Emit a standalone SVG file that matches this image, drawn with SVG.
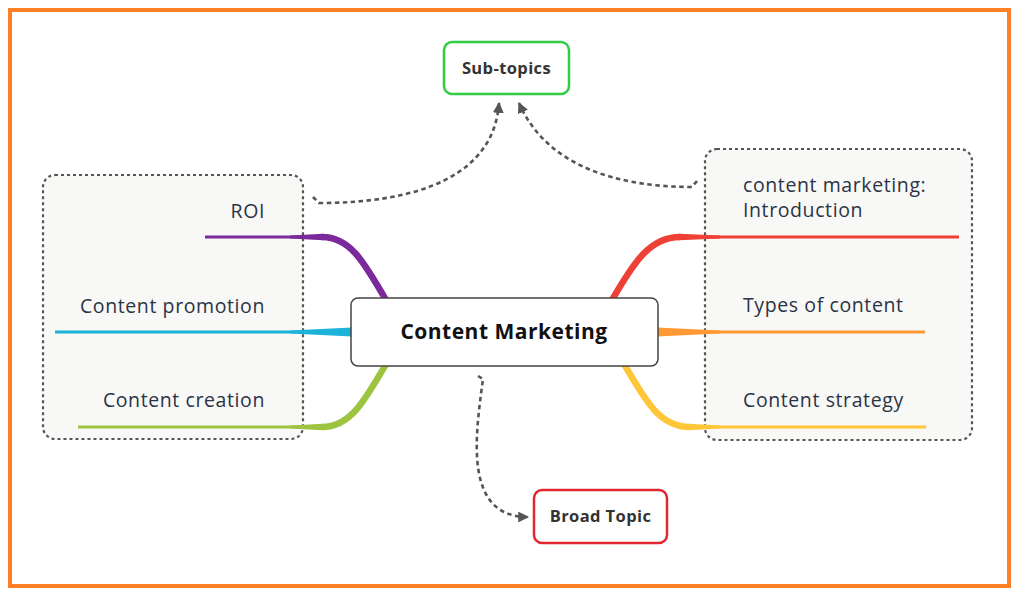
<svg xmlns="http://www.w3.org/2000/svg" width="1024" height="595" viewBox="0 0 1024 595">
<defs>
<style>
.frame{fill:#fff;stroke:#FF7F27;stroke-width:4}
.group{fill:#F8F8F6;stroke:#555;stroke-width:2.2;stroke-dasharray:3 3}
.dash{fill:none;stroke:#555;stroke-width:2.6;stroke-dasharray:4.5 3.5}
.thin{fill:none;stroke-width:3}
.thick{fill:none;stroke-width:6.5;stroke-linecap:butt}
.lbl{font-family:"Open Sans","Liberation Sans",sans-serif;font-size:19.5px;letter-spacing:0.6px;fill:#2B3445}
.ntxt{font-family:"Open Sans","Liberation Sans",sans-serif;font-weight:bold;fill:#333;text-anchor:middle}
</style>
<marker id="arr" viewBox="0 0 10 10" refX="9" refY="5" markerWidth="4.2" markerHeight="4.2" orient="auto" markerUnits="strokeWidth">
<path d="M0,0 L10,5 L0,10 z" fill="#555"/>
</marker>
</defs>
<rect class="frame" x="10" y="10" width="999" height="576"/>

<g id="group-left">
<rect class="group" x="43" y="175" width="260" height="264" rx="12"/>
</g>
<g id="group-right">
<rect class="group" x="705" y="149" width="267" height="291" rx="12"/>
</g>

<g id="connectors">
<!-- left branches -->
<path class="thin" stroke="#7B2A9B" d="M205,237 H300"/>
<polygon fill="#7B2A9B" points="290,235.5 323,233.75 323,240.25 290,238.5"/>
<path class="thick" stroke="#7B2A9B" d="M322,237 C350,237 364,262 386,300"/>
<path class="thin" stroke="#1BB3D9" d="M55,332 H300"/>
<polygon fill="#1BB3D9" points="290,330.5 352,327.5 352,336.5 290,333.5"/>
<path class="thin" stroke="#9CC43E" d="M78,427 H300"/>
<polygon fill="#9CC43E" points="290,425.5 323,423.75 323,430.25 290,428.5"/>
<path class="thick" stroke="#9CC43E" d="M322,427 C350,427 364,402 386,364"/>
<!-- right branches -->
<path class="thin" stroke="#EE4035" d="M700,237 H959"/>
<path class="thick" stroke="#EE4035" d="M612,300 C634,262 650,237 680,237"/>
<polygon fill="#EE4035" points="679,233.75 720,235.5 720,238.5 679,240.25"/>
<path class="thin" stroke="#FF9933" d="M700,332 H925"/>
<polygon fill="#FF9933" points="657,327.5 720,330.5 720,333.5 657,336.5"/>
<path class="thin" stroke="#FFC638" d="M700,427 H926"/>
<path class="thick" stroke="#FFC638" d="M624,364 C646,402 660,427 690,427"/>
<polygon fill="#FFC638" points="689,423.75 720,425.5 720,428.5 689,430.25"/>
<!-- dashed relations -->
<path class="dash" d="M313,197 L319,203 C420,203 494,175 499,103" marker-end="url(#arr)"/>
<path class="dash" d="M697,181 L692,187 C615,187 546,165 519,103" marker-end="url(#arr)"/>
<path class="dash" d="M478,376 L483,379 C476,432 462,517 528,517" marker-end="url(#arr)"/>
</g>

<g id="node-roi"><text class="lbl" x="265" y="218" text-anchor="end">ROI</text></g>
<g id="node-promotion"><text class="lbl" x="265" y="313" text-anchor="end">Content promotion</text></g>
<g id="node-creation"><text class="lbl" x="265" y="407" text-anchor="end">Content creation</text></g>
<g id="node-intro"><text class="lbl" x="743" y="192">content marketing:</text><text class="lbl" x="743" y="217">Introduction</text></g>
<g id="node-types"><text class="lbl" x="743" y="312">Types of content</text></g>
<g id="node-strategy"><text class="lbl" x="743" y="407">Content strategy</text></g>

<g id="node-central">
<rect x="351" y="298" width="307" height="68" rx="7" fill="#fff" stroke="#444" stroke-width="1.5"/>
<text class="ntxt" x="504" y="339" font-size="21" letter-spacing="0.5" style="fill:#111">Content Marketing</text>
</g>
<g id="node-subtopics">
<rect x="444" y="42" width="125" height="52" rx="8" fill="#fff" stroke="#33CC44" stroke-width="2.5"/>
<text class="ntxt" x="506.5" y="74" font-size="16.5" letter-spacing="0.4">Sub-topics</text>
</g>
<g id="node-broad">
<rect x="534" y="490" width="133" height="53" rx="8" fill="#fff" stroke="#E0282E" stroke-width="2.5"/>
<text class="ntxt" x="600.5" y="522" font-size="16.5" letter-spacing="0.4">Broad Topic</text>
</g>
</svg>
